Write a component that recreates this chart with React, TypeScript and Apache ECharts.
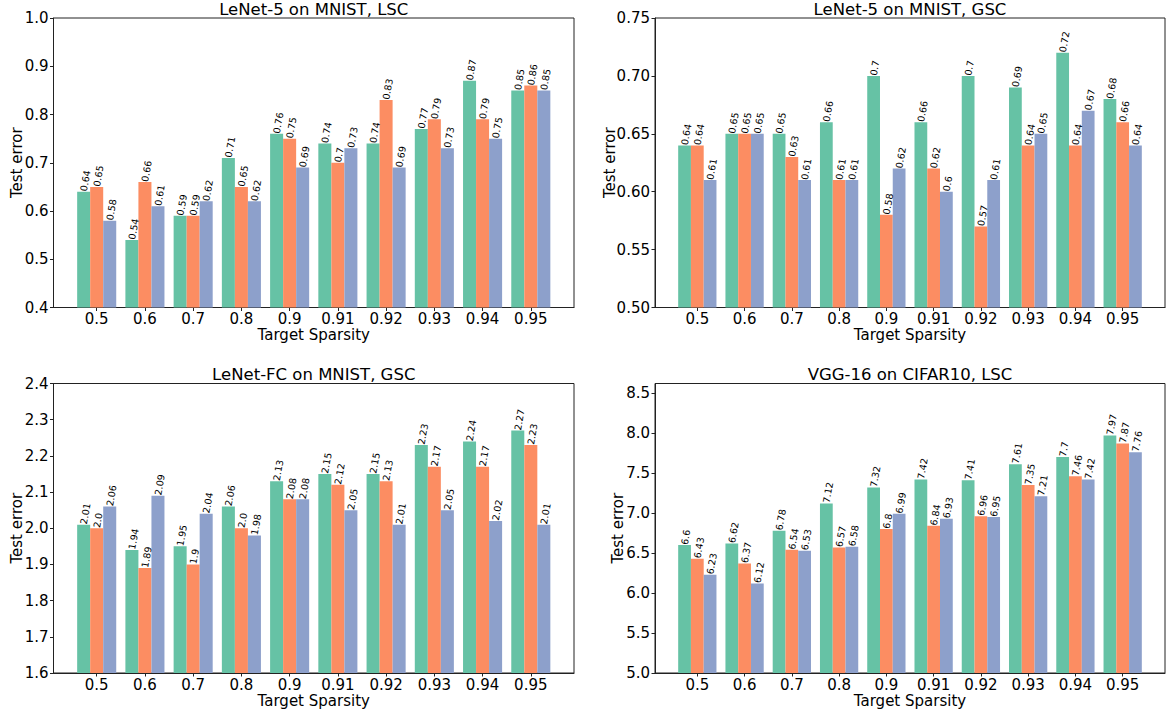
import React, { useEffect, useRef } from "react";
import * as echarts from "echarts";

const categories = ["0.5", "0.6", "0.7", "0.8", "0.9", "0.91", "0.92", "0.93", "0.94", "0.95"];

// Panel 1: LeNet-5 on MNIST, LSC
const p1Green = [0.64, 0.54, 0.59, 0.71, 0.76, 0.74, 0.74, 0.77, 0.87, 0.85];
const p1Orange = [0.65, 0.66, 0.59, 0.65, 0.75, 0.7, 0.83, 0.79, 0.79, 0.86];
const p1Blue = [0.58, 0.61, 0.62, 0.62, 0.69, 0.73, 0.69, 0.73, 0.75, 0.85];
const p1Ticks = [0.4, 0.5, 0.6, 0.7, 0.8, 0.9, 1.0];

// Panel 2: LeNet-5 on MNIST, GSC
const p2Green = [0.64, 0.65, 0.65, 0.66, 0.7, 0.66, 0.7, 0.69, 0.72, 0.68];
const p2Orange = [0.64, 0.65, 0.63, 0.61, 0.58, 0.62, 0.57, 0.64, 0.64, 0.66];
const p2Blue = [0.61, 0.65, 0.61, 0.61, 0.62, 0.6, 0.61, 0.65, 0.67, 0.64];
const p2Ticks = [0.5, 0.55, 0.6, 0.65, 0.7, 0.75];

// Panel 3: LeNet-FC on MNIST, GSC
const p3Green = [2.01, 1.94, 1.95, 2.06, 2.13, 2.15, 2.15, 2.23, 2.24, 2.27];
const p3Orange = [2.0, 1.89, 1.9, 2.0, 2.08, 2.12, 2.13, 2.17, 2.17, 2.23];
const p3Blue = [2.06, 2.09, 2.04, 1.98, 2.08, 2.05, 2.01, 2.05, 2.02, 2.01];
const p3Ticks = [1.6, 1.7, 1.8, 1.9, 2.0, 2.1, 2.2, 2.3, 2.4];

// Panel 4: VGG-16 on CIFAR10, LSC
const p4Green = [6.6, 6.62, 6.78, 7.12, 7.32, 7.42, 7.41, 7.61, 7.7, 7.97];
const p4Orange = [6.43, 6.37, 6.54, 6.57, 6.8, 6.84, 6.96, 7.35, 7.46, 7.87];
const p4Blue = [6.23, 6.12, 6.53, 6.58, 6.99, 6.93, 6.95, 7.21, 7.42, 7.76];
const p4Ticks = [5.0, 5.5, 6.0, 6.5, 7.0, 7.5, 8.0, 8.5];

const titles = [
  "LeNet-5 on MNIST, LSC",
  "LeNet-5 on MNIST, GSC",
  "LeNet-FC on MNIST, GSC",
  "VGG-16 on CIFAR10, LSC",
];

const colors = ["#66c2a5", "#fc8d62", "#8da0cb"];
const FONT = "DejaVu Sans";
const BAR_W = 0.27;
const X_MIN = -0.8955;
const X_MAX = 9.8955;

export default function App() {
  const ref = useRef<HTMLDivElement>(null);

  useEffect(() => {
    if (!ref.current) return;
    const chart = echarts.init(ref.current, null, { renderer: "svg" });

    const panels = [
      { series: [p1Green, p1Orange, p1Blue], ticks: p1Ticks, min: 0.4, max: 1.0, dec: 1, grid: { left: 53.5, top: 18, width: 520.5, height: 289.5 }, yNameX: 17, xGap: 19 },
      { series: [p2Green, p2Orange, p2Blue], ticks: p2Ticks, min: 0.5, max: 0.75, dec: 2, grid: { left: 655, top: 18, width: 510, height: 289.5 }, yNameX: 609.5, xGap: 19 },
      { series: [p3Green, p3Orange, p3Blue], ticks: p3Ticks, min: 1.6, max: 2.4, dec: 1, grid: { left: 53.5, top: 383.5, width: 520.5, height: 289.5 }, yNameX: 17, xGap: 20 },
      { series: [p4Green, p4Orange, p4Blue], ticks: p4Ticks, min: 5.0, max: 8.62, dec: 1, grid: { left: 655, top: 383.5, width: 510, height: 289.5 }, yNameX: 618, xGap: 20 },
    ];

    const fmtVal = (v: number) => (Number.isInteger(v) ? v.toFixed(1) : String(v));

    const grids: any[] = [];
    const xAxes: any[] = [];
    const yAxes: any[] = [];
    const series: any[] = [];
    const graphics: any[] = [];

    panels.forEach((p, pi) => {
      grids.push({
        ...p.grid,
        show: true,
        borderColor: "#222",
        borderWidth: 1,
        backgroundColor: "transparent",
        containLabel: false,
      });
      xAxes.push({
        type: "value",
        gridIndex: pi,
        min: X_MIN,
        max: X_MAX,
        name: "Target Sparsity",
        nameLocation: "middle",
        nameGap: p.xGap,
        nameTextStyle: { fontFamily: FONT, fontSize: 15, color: "#000" },
        splitLine: { show: false },
        axisLine: { show: true, onZero: false, lineStyle: { color: "#222", width: 1 } },
        axisTick: {
          show: true,
          length: 3.5,
          lineStyle: { color: "#222", width: 1 },
          customValues: categories.map((_, i) => i),
        },
        axisLabel: {
          show: true,
          fontFamily: FONT,
          fontSize: 15,
          color: "#000",
          margin: 4,
          customValues: categories.map((_, i) => i),
          formatter: (v: number) => categories[Math.round(v)] ?? "",
        },
      });
      yAxes.push({
        type: "value",
        gridIndex: pi,
        min: p.min,
        max: p.max,
        splitLine: { show: false },
        axisLine: { show: true, onZero: false, lineStyle: { color: "#222", width: 1 } },
        axisTick: {
          show: true,
          length: 3.5,
          lineStyle: { color: "#222", width: 1 },
          customValues: p.ticks,
        },
        axisLabel: {
          show: true,
          fontFamily: FONT,
          fontSize: 15,
          color: "#000",
          margin: 5,
          customValues: p.ticks,
          formatter: (v: number) => v.toFixed(p.dec),
        },
      });
      const pxPerUnit = p.grid.width / (X_MAX - X_MIN);
      p.series.forEach((arr, si) => {
        const offset = (si - 1) * BAR_W;
        series.push({
          type: "bar",
          xAxisIndex: pi,
          yAxisIndex: pi,
          barWidth: BAR_W * pxPerUnit,
          barGap: "-100%",
          itemStyle: { color: colors[si] },
          data: arr.map((v, i) => [i + offset, v]),
          label: {
            show: true,
            position: "top",
            rotate: 80,
            align: "left",
            verticalAlign: "middle",
            distance: 2,
            offset: [-1.5, 0],
            fontFamily: FONT,
            fontSize: 9.5,
            color: "#000",
            formatter: (params: any) => fmtVal(params.value[1]),
          },
        });
      });
      graphics.push({
        type: "text",
        x: p.grid.left + p.grid.width / 2,
        y: p.grid.top - 9,
        style: {
          text: titles[pi],
          fontFamily: FONT,
          fontSize: 16.5,
          fill: "#000",
          textAlign: "center",
          textVerticalAlign: "middle",
        },
      });
      graphics.push({
        type: "text",
        x: p.yNameX,
        y: p.grid.top + p.grid.height / 2,
        rotation: Math.PI / 2,
        style: {
          text: "Test error",
          fontFamily: FONT,
          fontSize: 15,
          fill: "#000",
          textAlign: "center",
          textVerticalAlign: "middle",
        },
      });
    });

    chart.setOption({
      animation: false,
      backgroundColor: "#fff",
      grid: grids,
      xAxis: xAxes,
      yAxis: yAxes,
      series,
      graphic: graphics,
    });

    return () => chart.dispose();
  }, []);

  return (
    <div
      ref={ref}
      style={{ position: "absolute", left: 0, top: 0, width: 1171, height: 715 }}
    />
  );
}
